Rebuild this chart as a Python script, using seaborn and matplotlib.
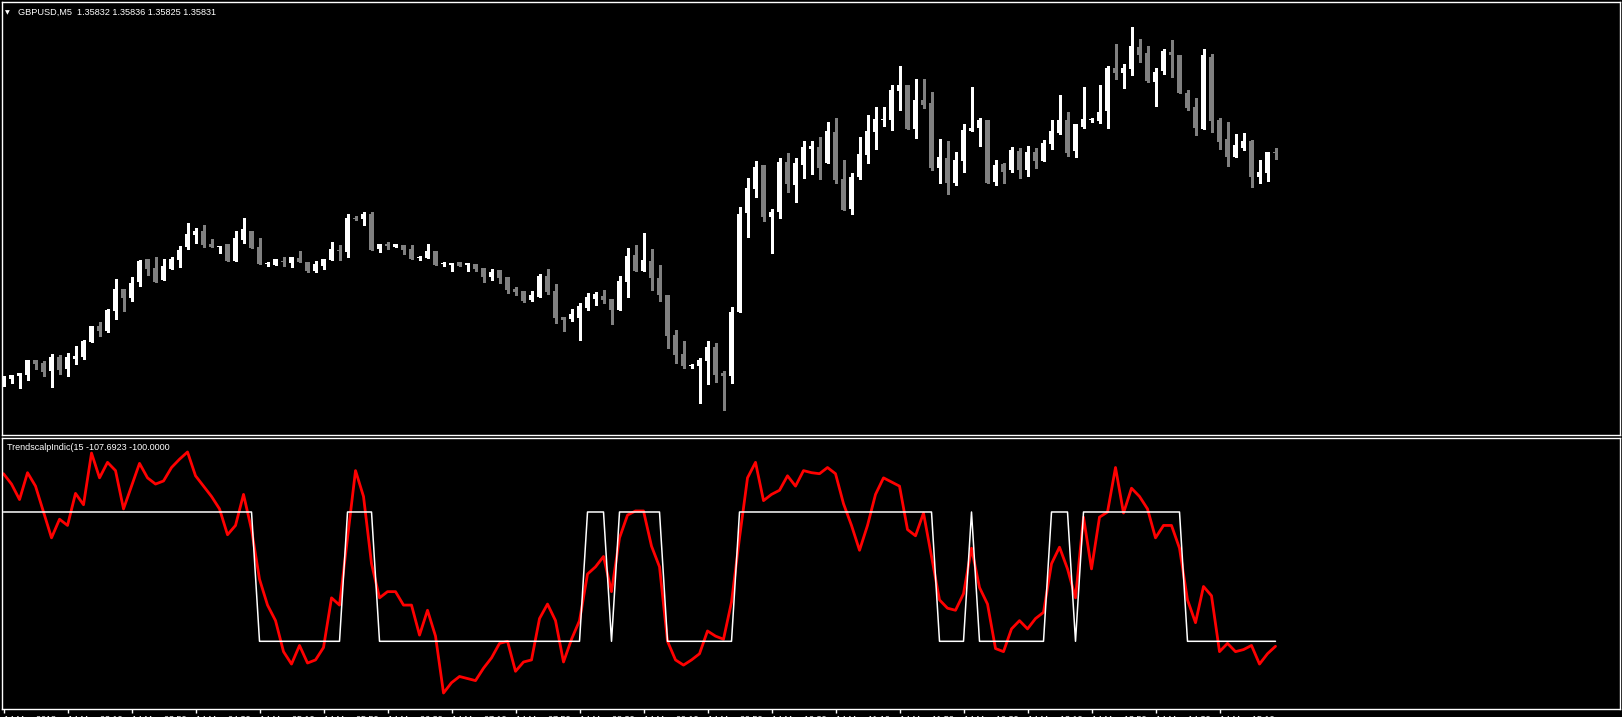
import matplotlib
matplotlib.use("Agg")
import matplotlib.pyplot as plt
import seaborn as sns
import numpy as np
import pandas as pd

# -------------------------
# Data (GBPUSD M5, prices in points = price * 1e5)
# -------------------------
open_pts = [135600, 135605, 135608, 135609, 135624, 135621, 135613, 135627, 135615, 135625,
            135627, 135642, 135658, 135653, 135673, 135695, 135686, 135702, 135725, 135716,
            135704, 135715, 135724, 135737, 135749, 135753, 135740, 135737, 135740, 135723,
            135744, 135753, 135737, 135720, 135719, 135723, 135721, 135726, 135722, 135713,
            135718, 135724, 135734, 135732, 135766, 135765, 135770, 135735, 135740, 135737,
            135739, 135735, 135726, 135726, 135733, 135720, 135719, 135722, 135719, 135720,
            135716, 135707, 135714, 135707, 135695, 135693, 135684, 135687, 135708, 135693,
            135667, 135665, 135666, 135676, 135685, 135688, 135685, 135674, 135702, 135729,
            135713, 135723, 135706, 135689, 135649, 135630, 135618, 135618, 135623, 135637,
            135611, 135608, 135672, 135771, 135795, 135819, 135767, 135772, 135822, 135799,
            135819, 135835, 135837, 135821, 135852, 135805, 135775, 135807, 135829, 135852,
            135864, 135864, 135893, 135899, 135855, 135884, 135881, 135816, 135826, 135801,
            135823, 135853, 135856, 135864, 135802, 135820, 135814, 135833, 135814, 135832,
            135823, 135840, 135851, 135864, 135833, 135857, 135864, 135863, 135873, 135916,
            135911, 135915, 135937, 135931, 135902, 135913, 135932, 135929, 135891, 135877,
            135855, 135927, 135864, 135845, 135827, 135836, 135843, 135807, 135811, 135832]
high_pts = [135608, 135609, 135611, 135624, 135624, 135623, 135630, 135629, 135631, 135638,
            135644, 135658, 135662, 135675, 135705, 135695, 135707, 135724, 135725, 135727,
            135725, 135727, 135738, 135761, 135756, 135759, 135745, 135738, 135740, 135753,
            135766, 135753, 135746, 135722, 135725, 135727, 135727, 135733, 135722, 135723,
            135725, 135742, 135739, 135770, 135768, 135772, 135772, 135740, 135742, 135740,
            135739, 135739, 135728, 135740, 135733, 135722, 135721, 135722, 135721, 135720,
            135716, 135715, 135714, 135707, 135697, 135693, 135693, 135710, 135715, 135700,
            135667, 135675, 135681, 135691, 135692, 135694, 135685, 135708, 135736, 135739,
            135751, 135735, 135719, 135689, 135654, 135643, 135620, 135626, 135643, 135641,
            135613, 135677, 135777, 135806, 135823, 135819, 135775, 135826, 135831, 135826,
            135843, 135843, 135847, 135862, 135866, 135824, 135811, 135847, 135869, 135877,
            135877, 135899, 135918, 135899, 135905, 135905, 135892, 135845, 135843, 135832,
            135860, 135897, 135866, 135864, 135824, 135821, 135837, 135836, 135838, 135836,
            135844, 135864, 135889, 135872, 135860, 135897, 135866, 135899, 135918, 135940,
            135920, 135957, 135945, 135938, 135916, 135935, 135944, 135929, 135894, 135886,
            135935, 135930, 135866, 135862, 135850, 135851, 135844, 135824, 135832, 135836]
low_pts = [135598, 135601, 135596, 135604, 135615, 135608, 135597, 135610, 135608, 135620,
           135625, 135642, 135648, 135652, 135665, 135673, 135683, 135698, 135709, 135702,
           135704, 135715, 135717, 135735, 135741, 135737, 135737, 135731, 135723, 135723,
           135741, 135736, 135720, 135718, 135719, 135718, 135717, 135722, 135712, 135712,
           135715, 135724, 135724, 135727, 135764, 135759, 135734, 135732, 135735, 135737,
           135730, 135725, 135724, 135726, 135719, 135718, 135713, 135718, 135713, 135713,
           135702, 135704, 135701, 135691, 135689, 135682, 135683, 135687, 135690, 135661,
           135653, 135663, 135644, 135674, 135679, 135681, 135660, 135674, 135687, 135713,
           135713, 135694, 135683, 135636, 135621, 135616, 135616, 135581, 135600, 135602,
           135574, 135601, 135672, 135747, 135787, 135763, 135731, 135766, 135792, 135782,
           135806, 135810, 135805, 135821, 135801, 135774, 135770, 135805, 135821, 135835,
           135858, 135854, 135874, 135855, 135846, 135876, 135814, 135801, 135790, 135799,
           135812, 135853, 135838, 135801, 135799, 135801, 135812, 135806, 135808, 135816,
           135823, 135835, 135850, 135828, 135827, 135856, 135862, 135861, 135856, 135905,
           135896, 135909, 135922, 135902, 135878, 135910, 135907, 135891, 135874, 135849,
           135855, 135852, 135835, 135818, 135827, 135834, 135797, 135801, 135803, 135825]
close_pts = [135608, 135609, 135611, 135624, 135620, 135612, 135627, 135614, 135627, 135628,
             135643, 135658, 135653, 135674, 135695, 135686, 135701, 135723, 135715, 135702,
             135718, 135725, 135734, 135750, 135753, 135739, 135737, 135738, 135723, 135746,
             135755, 135736, 135720, 135721, 135725, 135722, 135727, 135722, 135713, 135720,
             135725, 135735, 135733, 135766, 135765, 135770, 135734, 135740, 135738, 135740,
             135734, 135725, 135726, 135733, 135719, 135721, 135721, 135718, 135721, 135715,
             135707, 135712, 135706, 135694, 135692, 135683, 135689, 135708, 135692, 135666,
             135664, 135670, 135678, 135687, 135690, 135684, 135674, 135703, 135728, 135713,
             135724, 135706, 135689, 135648, 135629, 135618, 135618, 135624, 135637, 135609,
             135608, 135672, 135770, 135796, 135817, 135767, 135772, 135822, 135800, 135821,
             135837, 135838, 135816, 135853, 135804, 135774, 135807, 135830, 135853, 135865,
             135865, 135894, 135899, 135855, 135884, 135879, 135816, 135827, 135801, 135824,
             135854, 135856, 135864, 135801, 135819, 135812, 135834, 135814, 135832, 135823,
             135841, 135853, 135864, 135831, 135860, 135865, 135864, 135872, 135916, 135911,
             135916, 135938, 135929, 135903, 135912, 135933, 135929, 135891, 135876, 135856,
             135929, 135863, 135842, 135827, 135839, 135843, 135807, 135812, 135832, 135831]

# TrendscalpIndic(15) main buffer (red); signal buffer is +/-100 by sign
trend_values = [159.2, 143.2, 119.2, 160.8, 140.0, 100.0, 60.0, 88.8, 79.2, 128.8,
                111.2, 191.2, 152.8, 176.8, 164.0, 104.8, 140.0, 175.2, 152.8, 143.2,
                148.0, 168.8, 181.6, 192.8, 156.0, 140.0, 124.0, 104.8, 64.8, 79.2,
                127.2, 72.8, -4.0, -44.0, -68.0, -116.0, -135.2, -106.4, -133.6, -128.8,
                -109.6, -32.8, -44.0, 60.0, 164.0, 124.0, 20.0, -32.8, -23.2, -23.2,
                -44.0, -44.0, -90.4, -52.0, -92.0, -180.0, -164.0, -154.4, -157.6, -160.8,
                -141.6, -125.6, -103.2, -100.0, -146.4, -132.0, -128.8, -64.8, -42.4, -68.0,
                -132.0, -96.8, -68.0, 4.0, 15.2, 31.2, -23.2, 60.0, 95.2, 101.6,
                101.6, 47.2, 15.2, -100.0, -128.8, -136.8, -128.8, -119.2, -84.0, -92.0,
                -96.8, -39.2, 60.0, 152.8, 176.8, 117.6, 127.2, 133.6, 156.0, 140.0,
                164.0, 160.8, 159.2, 168.8, 159.2, 112.8, 79.2, 40.8, 79.2, 127.2,
                152.8, 146.4, 140.0, 72.8, 63.2, 98.4, 31.2, -36.0, -48.8, -52.0,
                -26.4, 44.0, -16.8, -42.4, -111.2, -116.0, -80.8, -68.0, -80.8, -64.8,
                -55.2, 20.0, 45.6, 12.0, -32.8, 92.0, 12.0, 92.0, 100.0, 168.8,
                98.4, 136.8, 124.0, 104.8, 60.0, 79.2, 79.2, 44.0, -36.0, -71.2,
                -15.2, -29.6, -116.0, -103.2, -116.0, -112.8, -106.4, -135.2, -119.2, -107.6923]

tick_labels = ["14 May 2018", "14 May 03:10", "14 May 03:50", "14 May 04:30", "14 May 05:10",
               "14 May 05:50", "14 May 06:30", "14 May 07:10", "14 May 07:50", "14 May 08:30",
               "14 May 09:10", "14 May 09:50", "14 May 10:30", "14 May 11:10", "14 May 11:50",
               "14 May 12:30", "14 May 13:10", "14 May 13:50", "14 May 14:30", "14 May 15:10"]

df = pd.DataFrame({'open': open_pts, 'high': high_pts, 'low': low_pts, 'close': close_pts})
df = df / 1e5
df['bar'] = np.arange(len(df))
df['bull'] = df['close'] >= df['open']
ind = pd.DataFrame({'bar': np.arange(len(trend_values)), 'trend': trend_values})
ind['signal'] = np.where(ind['trend'] > 0, 100.0, -100.0)

# -------------------------
# Style
# -------------------------
sns.set_style("dark", {'axes.facecolor': 'black', 'figure.facecolor': 'black',
                       'axes.edgecolor': 'white', 'text.color': 'white'})
plt.rcParams['font.family'] = ['Liberation Sans', 'DejaVu Sans']

W, H = 1622, 717
fig = plt.figure(figsize=(W / 100, H / 100), dpi=100, facecolor='black')
ax1 = fig.add_axes([2 / W, (H - 435) / H, 1617.5 / W, 433.5 / H])
ax2 = fig.add_axes([2 / W, 8 / H, 1617.5 / W, 271.3 / H])

# -------------------------
# Candles
# -------------------------
colors = np.where(df['bull'], '#ffffff', '#808080')
ax1.vlines(df['bar'], df['low'], df['high'], colors=colors, lw=0.8, antialiased=False)
body_low = df[['open', 'close']].min(axis=1)
body_h = (df['close'] - df['open']).abs().clip(lower=0.00001)
ax1.bar(df['bar'], body_h, bottom=body_low, width=0.62, color=colors, lw=0, antialiased=False)

ax1.set_xlim(-0.19, 202)
ax1.set_ylim(1.35549, 1.359825)
ax1.set_xticks([])
ax1.set_yticks([])
for s in ax1.spines.values():
    s.set_color('white')
    s.set_linewidth(1)

# -------------------------
# Indicator
# -------------------------
sns.lineplot(data=ind, x='bar', y='trend', color='#ff0000', lw=2.0, ax=ax2)
sns.lineplot(data=ind, x='bar', y='signal', color='white', lw=1.1, ax=ax2)
ax2.set_xlim(-0.19, 202)
ax2.set_ylim(-204.7, 214.9)
ax2.set_xlabel('')
ax2.set_ylabel('')
ax2.set_yticks([])
ax2.set_xticks(np.arange(0, len(tick_labels) * 8, 8))
ax2.set_xticklabels(tick_labels, ha='left')
ax2.tick_params(axis='x', colors='white', labelcolor='white', length=3, width=1,
                labelsize=6.5, pad=1.5, direction='out', bottom=True)
for s in ax2.spines.values():
    s.set_color('white')
    s.set_linewidth(1)

# -------------------------
# Labels
# -------------------------
fig.text(5 / W, 1 - 12.5 / H, '\u25bc', fontsize=4.5, color='white', va='center',
         family=['DejaVu Sans'])
fig.text(18 / W, 1 - 12.5 / H, 'GBPUSD,M5  1.35832 1.35836 1.35825 1.35831',
         fontsize=6.6, color='white', va='center')
fig.text(7 / W, 1 - 447 / H, 'TrendscalpIndic(15 -107.6923 -100.0000',
         fontsize=6.5, color='white', va='center')

plt.savefig('out.png', dpi=100, facecolor='black')
